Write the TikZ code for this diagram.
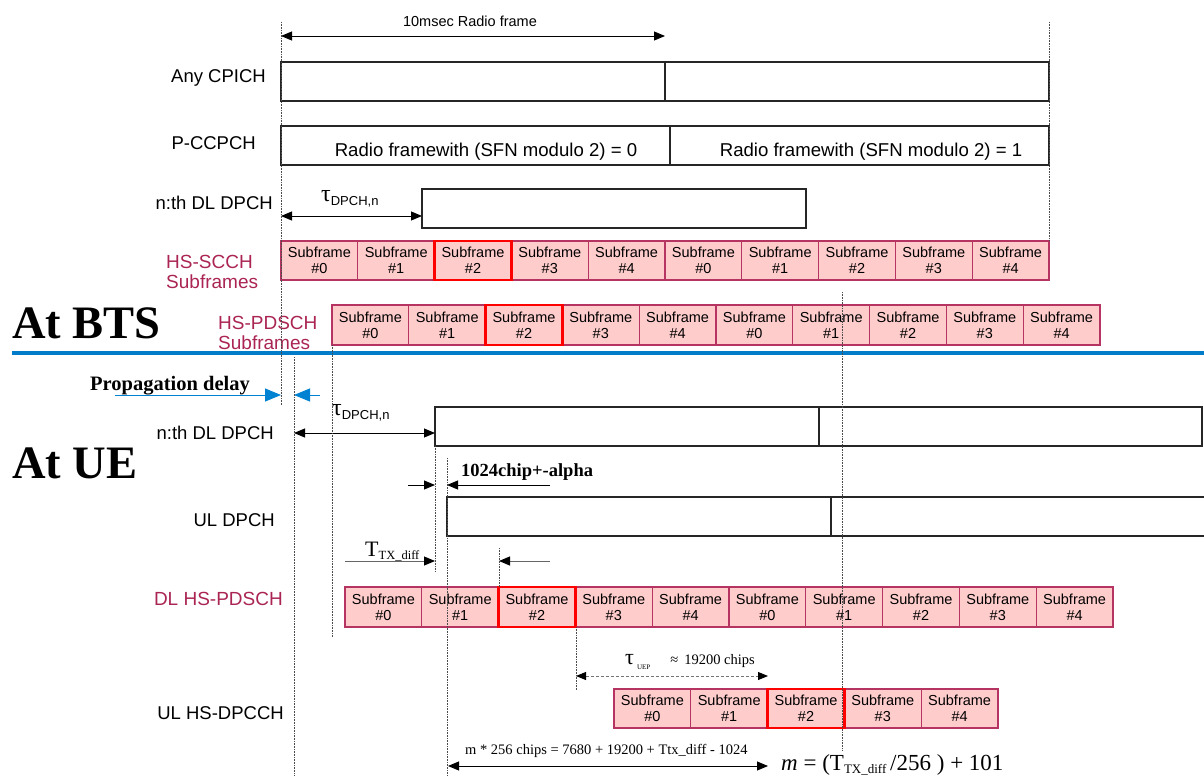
\documentclass[tikz,border=0pt]{standalone}
\usepackage{fontspec}
\setmainfont{Liberation Sans}
\newfontfamily\tms{Liberation Serif}
\usetikzlibrary{arrows.meta}
\definecolor{sfpink}{RGB}{255,204,204}
\definecolor{sfedge}{RGB}{181,52,98}
\definecolor{crim}{RGB}{170,36,84}
\definecolor{sepblue}{RGB}{0,124,200}
\definecolor{propblue}{RGB}{0,130,210}
\newcommand\mytaudp{{\tms\fontsize{24}{24}\selectfont τ}\raisebox{-4pt}{\fontsize{13}{14}\selectfont DPCH,n}}
\tikzset{
 frm/.style={draw=black!85, line width=1.3pt, minimum height=39pt, inner sep=0pt, outer sep=0pt, anchor=north west},
 sf/.style={draw=sfedge, fill=sfpink, line width=1.2pt, minimum width=76.8pt, minimum height=39pt, inner sep=0pt, outer sep=0pt, anchor=north west, align=center, font=\fontsize{14.5}{16}\selectfont},
 hot/.style={draw=red, line width=2.8pt},
 lbl/.style={anchor=east, inner sep=0pt, font=\fontsize{18.5}{20}\selectfont},
 clbl/.style={anchor=west, inner sep=0pt, align=left, text=crim, font=\fontsize{19}{20.5}\selectfont},
 guide/.style={line width=0.6pt, black!70, dash pattern=on 0.8pt off 0.8pt},
 dim/.style={{Triangle[length=11pt,width=9pt]}-{Triangle[length=11pt,width=9pt]}, line width=0.9pt},
 to1/.style={-{Triangle[length=11pt,width=9pt]}, line width=0.9pt},
 gto/.style={-{Triangle[length=11pt,width=9pt,color=black]}, line width=1pt, draw=black!60},
 gdim/.style={{Triangle[length=10pt,width=8pt,color=black]}-{Triangle[length=10pt,width=8pt,color=black]}, line width=0.9pt, draw=black!55, dash pattern=on 3pt off 2pt},
 ptr/.style={-{Triangle[length=16pt,width=13pt]}, line width=1pt, draw=propblue},
 bigbf/.style={anchor=west, inner sep=0pt, font=\tms\bfseries\fontsize{46.5}{50}\selectfont}
}
\begin{document}
\begin{tikzpicture}[x=1pt,y=-1pt]
\useasboundingbox (0,0) rectangle (1204,776);
% ---------- BTS frames ----------
\node[frm, minimum width=384pt] (cp0) at (281,62) {};
\node[frm, minimum width=384pt] (cp1) at (665,62) {};
\node[frm, minimum width=389pt] (pc0) at (281,126) {};
\node[frm, minimum width=379pt] (pc1) at (670,126) {};
\node[font=\fontsize{18.6}{20}\selectfont] (pt0) at (486,152) {Radio framewith (SFN modulo 2) = 0};
\node[font=\fontsize{18.6}{20}\selectfont] (pt1) at (871,152) {Radio framewith (SFN modulo 2) = 1};
\node[frm, minimum width=384pt] (dpb) at (422,189) {};
% ---------- subframes ----------
\foreach \i in {0,...,9}{
  \pgfmathtruncatemacro\k{mod(\i,5)}
  \node[sf] (a\i) at ({281+76.8*\i},241) {Subframe\\\#\k};
  \node[sf, minimum height=40pt] (b\i) at ({332+76.8*\i},305) {Subframe\\\#\k};
  \node[sf, minimum height=40pt] (c\i) at ({345+76.8*\i},587) {Subframe\\\#\k};
}
\foreach \i in {0,...,4}{
  \node[sf] (d\i) at ({614+76.8*\i},689) {Subframe\\\#\i};
}
\draw[hot] (a2.north west) rectangle (a2.south east);
\draw[hot] (b2.north west) rectangle (b2.south east);
\draw[hot] (c2.north west) rectangle (c2.south east);
\draw[hot] (d2.north west) rectangle (d2.south east);
% ---------- UE frames ----------
\node[frm, minimum width=384pt] (dpu0) at (435,407) {};
\node[frm, minimum width=383pt] (dpu1) at (819,407) {};
\node[frm, minimum width=384pt] (ul0) at (447,497) {};
\node[frm, minimum width=384pt] (ul1) at (831,497) {};
% ---------- labels ----------
\node[lbl] (lcp) at (266,78) {Any CPICH};
\node[lbl] (lpc) at (256,143) {P-CCPCH};
\node[lbl] (ldb) at (273,203) {n:th DL DPCH};
\node[clbl] (lsc) at (166,272) {HS-SCCH\\Subframes};
\node[clbl] (lpd) at (218,333) {HS-PDSCH\\Subframes};
\node[lbl] (ldu) at (274,433) {n:th DL DPCH};
\node[lbl] (lul) at (275,520) {UL DPCH};
\node[clbl, anchor=east] (lhp) at (283,599) {DL HS-PDSCH};
\node[lbl] (lhd) at (284,713) {UL HS-DPCCH};
\node[bigbf] (bts) at (12,323) {At BTS};
\node[bigbf] (ue) at (12,463) {At UE};
% ---------- separator ----------
\coordinate (sep1) at (12,353);
\coordinate (sep2) at (1204,353);
\draw[sepblue, line width=4pt] (sep1) -- (sep2);
% ---------- radio frame ----------
\node[font=\fontsize{14.5}{16}\selectfont] (rft) at (470,21) {10msec Radio frame};
\coordinate (rf1) at (281,36);
\coordinate (rf2) at (665,36);
\draw[dim] (rf1) -- (rf2);
% ---------- tau DPCH ----------
\node[anchor=west, inner sep=0pt] (ttb) at (321,199) {\mytaudp};
\coordinate (tb1) at (281,216);
\coordinate (tb2) at (dpb.west |- tb1);
\draw[dim] (tb1) -- (tb2);
\node[anchor=west, inner sep=0pt] (ttu) at (332,413) {\mytaudp};
\coordinate (tu1) at (294,433);
\coordinate (tu2) at (dpu0.west |- tu1);
\draw[dim] (tu1) -- (tu2);
% ---------- propagation delay ----------
\node[anchor=base west, inner sep=0pt, font=\tms\bfseries\fontsize{20.5}{22}\selectfont] (prop) at (90,390) {Propagation delay};
\coordinate (pa1) at (115,395);
\coordinate (pa2) at (281,395);
\coordinate (pb1) at (320,395);
\coordinate (pb2) at (294,395);
\draw[ptr] (pa1) -- (pa2);
\draw[ptr] (pb1) -- (pb2);
% ---------- 1024 chip ----------
\node[anchor=base west, inner sep=0pt, font=\tms\bfseries\fontsize{18.5}{20}\selectfont] (kt) at (461,476) {1024chip+-alpha};
\coordinate (k1) at (408,485);
\coordinate (k2) at (435,485);
\coordinate (k3) at (550,485);
\coordinate (k4) at (447,485);
\draw[to1] (k1) -- (k2);
\draw[to1] (k3) -- (k4);
% ---------- T_TX_diff ----------
\node[anchor=base west, inner sep=0pt, font=\tms] (txd) at (365,556) {{\fontsize{22}{22}\selectfont T}\raisebox{-3pt}{\fontsize{12.5}{13}\selectfont TX\_diff}};
\coordinate (t1) at (345,561);
\coordinate (t2) at (435,561);
\coordinate (t3) at (550,561);
\coordinate (t4) at (499,561);
\draw[gto] (t1) -- (t2);
\draw[gto] (t3) -- (t4);
% ---------- tau UEP ----------
\node[anchor=base west, inner sep=0pt, font=\tms] (tuep) at (625,664) {{\fontsize{22}{22}\selectfont τ}\hspace{3pt}\raisebox{-5pt}{\fontsize{7}{7}\selectfont UEP}};
\node[anchor=base east, inner sep=0pt, font=\tms\fontsize{14.5}{15}\selectfont] (tuep2) at (755,664) {≈\hspace{6pt}19200 chips};
\coordinate (u1) at (576,676);
\coordinate (u2) at (768,676);
\draw[gdim] (u1) -- (u2);
% ---------- m * 256 ----------
\node[anchor=base west, inner sep=0pt, font=\tms\fontsize{14.5}{16}\selectfont] (mt) at (465,754) {m * 256 chips = 7680 + 19200 + Ttx\_diff - 1024};
\coordinate (m1) at (448,766);
\coordinate (m2) at (768,766);
\draw[dim] (m1) -- (m2);
\node[anchor=base west, inner sep=0pt, font=\tms\fontsize{23}{24}\selectfont] (form) at (781,770) {{\itshape m} = (T\raisebox{-3pt}{\fontsize{13}{13}\selectfont TX\_diff}\,/256 ) + 101};
% ---------- dotted guides ----------
\coordinate (g1a) at (281,22);  \coordinate (g1b) at (281,405);
\coordinate (g2a) at (294,357); \coordinate (g2b) at (294,776);
\coordinate (g3a) at (332,345); \coordinate (g3b) at (332,637);
\coordinate (g4a) at (1049,22); \coordinate (g4b) at (1049,241);
\coordinate (g5a) at (842,292); \coordinate (g5b) at (842,750);
\coordinate (g6a) at (435,446); \coordinate (g6b) at (435,572);
\coordinate (g7a) at (447,458); \coordinate (g7b) at (447,776);
\coordinate (g8a) at (499,548); \coordinate (g8b) at (499,587);
\coordinate (g9a) at (576,627); \coordinate (g9b) at (576,690);
\foreach \g in {1,...,9}{\draw[guide] (g\g a) -- (g\g b);}
\end{tikzpicture}
\end{document}
